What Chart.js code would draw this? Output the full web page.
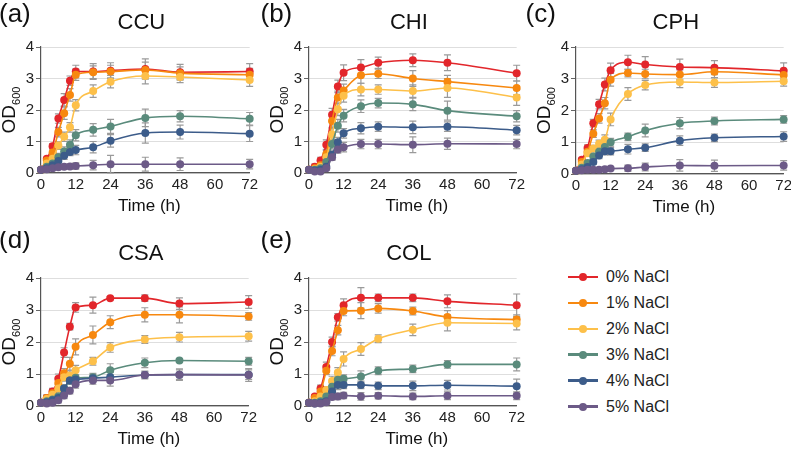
<!DOCTYPE html>
<html>
<head>
<meta charset="utf-8">
<script src="https://cdn.jsdelivr.net/npm/chart.js@4.4.1/dist/chart.umd.min.js"></script>
<style>
  body { margin: 0; width: 791px; height: 449px; background: #fff; position: relative; overflow: hidden;
         font-family: "Liberation Sans", Arial, sans-serif; }
  canvas { position: absolute; }
  .lg { position: absolute; left: 568px; height: 26px; width: 120px; }
  .lg .ln { position: absolute; left: 0; top: 11.8px; width: 30px; height: 2.5px; }
  .lg .dt { position: absolute; left: 11px; top: 9px; width: 8px; height: 8px; border-radius: 50%; }
  .lg .tx { position: absolute; left: 38px; top: 0; line-height: 26px; font-size: 16px; color: #222; white-space: nowrap; }
</style>
</head>
<body>
<canvas id="pa"></canvas>
<canvas id="pb"></canvas>
<canvas id="pc"></canvas>
<canvas id="pd"></canvas>
<canvas id="pe"></canvas>
<div id="legend"></div>
<script>
// sampling times (h) and series
var hours = [0, 2, 4, 6, 8, 10, 12, 18, 24, 36, 48, 72];
var nacl = ['0% NaCl', '1% NaCl', '2% NaCl', '3% NaCl', '4% NaCl', '5% NaCl'];
var colors = ['#e2262b', '#f7880f', '#fdc04a', '#5a8b7c', '#3c5c8a', '#6c5a87'];
var xTicks = [0, 12, 24, 36, 48, 60, 72];
var yTicks = [0, 1, 2, 3, 4];

// OD600 means, one row per NaCl level
var ccuOD = [
  [0.1, 0.45, 0.85, 1.73, 2.32, 2.93, 3.22, 3.22, 3.25, 3.3, 3.2, 3.22],
  [0.1, 0.4, 0.65, 1.3, 1.9, 2.48, 3.12, 3.2, 3.22, 3.27, 3.17, 3.12],
  [0.1, 0.3, 0.45, 0.87, 1.15, 1.45, 2.15, 2.6, 2.9, 3.08, 3.05, 2.95],
  [0.1, 0.2, 0.3, 0.5, 0.68, 0.9, 1.2, 1.37, 1.48, 1.75, 1.8, 1.72],
  [0.1, 0.15, 0.25, 0.38, 0.55, 0.67, 0.73, 0.82, 1.02, 1.27, 1.3, 1.25],
  [0.1, 0.12, 0.15, 0.18, 0.2, 0.21, 0.22, 0.25, 0.28, 0.28, 0.28, 0.28]
];
var ccuErr = [
  [0.02, 0.05, 0.08, 0.15, 0.2, 0.15, 0.2, 0.25, 0.25, 0.32, 0.25, 0.25],
  [0.02, 0.05, 0.08, 0.15, 0.2, 0.2, 0.18, 0.2, 0.2, 0.25, 0.2, 0.2],
  [0.02, 0.05, 0.08, 0.12, 0.15, 0.15, 0.18, 0.2, 0.2, 0.25, 0.18, 0.2],
  [0.02, 0.05, 0.08, 0.12, 0.15, 0.15, 0.18, 0.2, 0.22, 0.28, 0.18, 0.2],
  [0.02, 0.03, 0.05, 0.1, 0.12, 0.12, 0.15, 0.18, 0.2, 0.32, 0.22, 0.25],
  [0.02, 0.02, 0.03, 0.05, 0.05, 0.08, 0.1, 0.15, 0.28, 0.22, 0.2, 0.15]
];
var chiOD = [
  [0.1, 0.2, 0.4, 0.9, 1.85, 2.75, 3.18, 3.35, 3.5, 3.58, 3.5, 3.17],
  [0.1, 0.15, 0.25, 0.6, 1.65, 2.4, 2.62, 3.1, 3.15, 3.0, 2.9, 2.7],
  [0.1, 0.12, 0.2, 0.5, 1.22, 2.02, 2.45, 2.65, 2.65, 2.6, 2.7, 2.4],
  [0.1, 0.1, 0.15, 0.35, 0.92, 1.5, 1.82, 2.12, 2.22, 2.18, 1.98, 1.8],
  [0.1, 0.08, 0.1, 0.2, 0.58, 0.98, 1.26, 1.42, 1.47, 1.45, 1.47, 1.36],
  [0.1, 0.05, 0.05, 0.15, 0.5, 0.75, 0.82, 0.92, 0.92, 0.9, 0.93, 0.92]
];
var chiErr = [
  [0.02, 0.08, 0.1, 0.15, 0.2, 0.2, 0.25, 0.25, 0.18, 0.2, 0.25, 0.25],
  [0.02, 0.05, 0.08, 0.12, 0.2, 0.2, 0.2, 0.25, 0.15, 0.25, 0.2, 0.22],
  [0.02, 0.05, 0.08, 0.1, 0.2, 0.2, 0.2, 0.2, 0.15, 0.2, 0.3, 0.25],
  [0.02, 0.05, 0.05, 0.1, 0.15, 0.2, 0.2, 0.2, 0.15, 0.2, 0.3, 0.18],
  [0.02, 0.03, 0.05, 0.08, 0.15, 0.15, 0.15, 0.18, 0.15, 0.2, 0.15, 0.15],
  [0.02, 0.03, 0.03, 0.05, 0.1, 0.12, 0.15, 0.15, 0.15, 0.25, 0.18, 0.15]
];
var cphOD = [
  [0.1, 0.45, 0.82, 1.6, 2.2, 2.82, 3.27, 3.52, 3.45, 3.37, 3.35, 3.25],
  [0.1, 0.38, 0.7, 1.27, 1.75, 2.23, 2.97, 3.18, 3.15, 3.13, 3.22, 3.12],
  [0.1, 0.3, 0.65, 0.8, 0.95, 1.08, 1.72, 2.52, 2.8, 2.9, 2.88, 2.92],
  [0.1, 0.2, 0.35, 0.55, 0.7, 0.85, 1.0, 1.17, 1.37, 1.6, 1.67, 1.72],
  [0.1, 0.15, 0.22, 0.38, 0.58, 0.72, 0.72, 0.78, 0.83, 1.05, 1.14, 1.18],
  [0.1, 0.12, 0.13, 0.13, 0.13, 0.15, 0.17, 0.18, 0.22, 0.27, 0.26, 0.27]
];
var cphErr = [
  [0.02, 0.05, 0.1, 0.12, 0.15, 0.2, 0.22, 0.22, 0.25, 0.25, 0.22, 0.25],
  [0.02, 0.05, 0.08, 0.12, 0.15, 0.18, 0.2, 0.12, 0.15, 0.15, 0.18, 0.15],
  [0.02, 0.05, 0.08, 0.1, 0.12, 0.15, 0.2, 0.2, 0.15, 0.18, 0.15, 0.15],
  [0.02, 0.03, 0.05, 0.08, 0.1, 0.12, 0.12, 0.12, 0.2, 0.18, 0.12, 0.12],
  [0.02, 0.03, 0.05, 0.08, 0.1, 0.12, 0.12, 0.15, 0.12, 0.15, 0.12, 0.15],
  [0.02, 0.02, 0.02, 0.03, 0.03, 0.05, 0.05, 0.1, 0.12, 0.18, 0.18, 0.15]
];
var csaOD = [
  [0.1, 0.25, 0.45, 0.85, 1.67, 2.48, 3.08, 3.15, 3.37, 3.37, 3.2, 3.25],
  [0.1, 0.25, 0.4, 0.72, 1.02, 1.32, 1.85, 2.22, 2.62, 2.85, 2.85, 2.8],
  [0.1, 0.22, 0.35, 0.55, 0.9, 0.95, 1.12, 1.4, 1.83, 2.08, 2.15, 2.18],
  [0.1, 0.15, 0.2, 0.3, 0.55, 0.8, 0.88, 0.9, 1.12, 1.35, 1.42, 1.4],
  [0.1, 0.12, 0.18, 0.25, 0.55, 0.8, 0.83, 0.87, 0.9, 0.97, 0.98, 0.98],
  [0.1, 0.08, 0.1, 0.18, 0.33, 0.48, 0.68, 0.8, 0.8, 0.97, 0.98, 0.97]
];
var csaErr = [
  [0.02, 0.08, 0.1, 0.15, 0.15, 0.1, 0.15, 0.25, 0.05, 0.1, 0.18, 0.2],
  [0.02, 0.1, 0.1, 0.15, 0.15, 0.2, 0.25, 0.28, 0.2, 0.22, 0.25, 0.12],
  [0.02, 0.1, 0.1, 0.12, 0.12, 0.15, 0.15, 0.12, 0.15, 0.12, 0.15, 0.15],
  [0.02, 0.08, 0.08, 0.1, 0.1, 0.12, 0.1, 0.12, 0.2, 0.15, 0.05, 0.12],
  [0.02, 0.05, 0.05, 0.08, 0.1, 0.1, 0.1, 0.1, 0.15, 0.12, 0.15, 0.15],
  [0.02, 0.03, 0.05, 0.08, 0.1, 0.1, 0.12, 0.12, 0.18, 0.1, 0.18, 0.2]
];
var colOD = [
  [0.1, 0.3, 0.55, 1.22, 2.0, 2.77, 3.15, 3.38, 3.38, 3.38, 3.27, 3.15],
  [0.1, 0.25, 0.45, 1.1, 1.72, 2.37, 2.97, 2.98, 3.05, 2.97, 2.78, 2.7],
  [0.1, 0.15, 0.3, 0.5, 0.78, 1.05, 1.47, 1.78, 2.1, 2.38, 2.6, 2.58],
  [0.1, 0.1, 0.15, 0.3, 0.6, 0.82, 0.85, 0.92, 1.1, 1.16, 1.3, 1.3],
  [0.1, 0.08, 0.1, 0.15, 0.45, 0.66, 0.66, 0.66, 0.63, 0.63, 0.65, 0.62],
  [0.1, 0.08, 0.08, 0.12, 0.28, 0.3, 0.33, 0.3, 0.32, 0.3, 0.32, 0.32]
];
var colErr = [
  [0.02, 0.05, 0.1, 0.15, 0.15, 0.12, 0.2, 0.32, 0.12, 0.12, 0.2, 0.35],
  [0.02, 0.05, 0.08, 0.12, 0.15, 0.15, 0.15, 0.25, 0.15, 0.12, 0.2, 0.15],
  [0.02, 0.05, 0.08, 0.1, 0.15, 0.15, 0.22, 0.2, 0.12, 0.18, 0.25, 0.2],
  [0.02, 0.03, 0.05, 0.08, 0.12, 0.15, 0.12, 0.18, 0.12, 0.12, 0.12, 0.2],
  [0.02, 0.03, 0.05, 0.08, 0.1, 0.15, 0.12, 0.12, 0.12, 0.15, 0.15, 0.22],
  [0.02, 0.02, 0.03, 0.05, 0.08, 0.1, 0.1, 0.12, 0.1, 0.1, 0.12, 0.12]
];

var FONT = '"Liberation Sans", Arial, sans-serif';
var YW = 56;  // room left of the plot area inside each canvas

// draws error bars, panel letter, title and axis titles
function decor(p) {
  return {
    id: 'decor',
    beforeDatasetsDraw: function(chart) {
      var ctx = chart.ctx, ys = chart.scales.y;
      ctx.save();
      ctx.strokeStyle = '#9a9a9a';
      ctx.lineWidth = 1.2;
      p.od.forEach(function(row, i) {
        var meta = chart.getDatasetMeta(i);
        row.forEach(function(v, j) {
          var e = p.err[i][j];
          var x = meta.data[j].x;
          var y1 = ys.getPixelForValue(v + e), y2 = ys.getPixelForValue(Math.max(v - e, 0));
          ctx.beginPath();
          ctx.moveTo(x, y1); ctx.lineTo(x, y2);
          ctx.moveTo(x - 3.5, y1); ctx.lineTo(x + 3.5, y1);
          ctx.moveTo(x - 3.5, y2); ctx.lineTo(x + 3.5, y2);
          ctx.stroke();
        });
      });
      ctx.restore();
    },
    afterDraw: function(chart) {
      var ctx = chart.ctx, a = chart.chartArea;
      var cx = (a.left + a.right) / 2, cy = (a.top + a.bottom) / 2;
      ctx.save();
      ctx.fillStyle = '#111';
      ctx.textBaseline = 'middle';
      ctx.textAlign = 'left';
      ctx.font = '26px ' + FONT;
      ctx.fillText(p.letter, p.lx - (p.L - YW), p.ly - (p.T - 47));
      ctx.textAlign = 'center';
      ctx.font = '22px ' + FONT;
      ctx.fillText(p.name, cx - 4, a.top - 24.5);
      ctx.font = '17px ' + FONT;
      ctx.fillText('Time (h)', cx + 4, a.bottom + 33);
      // OD600 with subscript, rotated
      ctx.translate(a.left - 31, cy);
      ctx.rotate(-Math.PI / 2);
      ctx.font = '19px ' + FONT;
      var w1 = ctx.measureText('OD').width;
      ctx.font = '11px ' + FONT;
      var w2 = ctx.measureText('600').width;
      var s = -(w1 + w2) / 2;
      ctx.textAlign = 'left';
      ctx.font = '19px ' + FONT;
      ctx.fillText('OD', s, 0);
      ctx.font = '11px ' + FONT;
      ctx.fillText('600', s + w1, 7);
      ctx.restore();
    }
  };
}

function makePanel(id, p) {
  var cv = document.getElementById(id);
  var W = (p.R - p.L) + YW + 10, H = (p.B - p.T) + 47 + 52;
  cv.width = W; cv.height = H;
  cv.style.left = (p.L - YW) + 'px';
  cv.style.top = (p.T - 47) + 'px';
  cv.style.width = W + 'px'; cv.style.height = H + 'px';

  var datasets = p.od.map(function(row, i) {
    return {
      label: nacl[i],
      data: row.map(function(v, j) { return {x: hours[j], y: v}; }),
      borderColor: colors[i],
      backgroundColor: colors[i],
      borderWidth: 1.6,
      pointRadius: 4,
      pointBorderWidth: 0,
      cubicInterpolationMode: 'monotone',
      clip: false
    };
  }).reverse();
  // draw 0% on top: reverse datasets and errors together
  var pr = {od: p.od.slice().reverse(), err: p.err.slice().reverse()};
  for (var k in p) if (!(k in pr)) pr[k] = p[k];

  new Chart(cv, {
    type: 'line',
    data: {datasets: datasets},
    options: {
      responsive: false,
      animation: false,
      events: [],
      layout: {padding: {left: 0, right: 10, top: 47, bottom: 28}},
      plugins: {legend: {display: false}, tooltip: {enabled: false}, title: {display: false}},
      scales: {
        x: {
          type: 'linear', min: 0, max: 72,
          afterBuildTicks: function(s) { s.ticks = xTicks.map(function(v) { return {value: v}; }); },
          afterFit: function(s) { s.height = 24; },
          grid: {display: false, drawTicks: false},
          border: {display: true, color: '#555', width: 1.2},
          ticks: {padding: 3, color: '#222', font: {size: 15, family: FONT}, maxRotation: 0, autoSkip: false}
        },
        y: {
          min: 0, max: 4,
          afterBuildTicks: function(s) { s.ticks = yTicks.map(function(v) { return {value: v}; }); },
          afterFit: function(s) { s.width = YW; },
          grid: {color: '#dedede', lineWidth: 1, tickColor: '#666', tickLength: 5, drawTicks: true},
          border: {display: true, color: '#555', width: 1.2},
          ticks: {padding: 2, color: '#222', font: {size: 15, family: FONT}}
        }
      }
    },
    plugins: [decor(pr)]
  });
}

makePanel('pa', {name: 'CCU', letter: '(a)', lx: -1, ly: 15, L: 41, R: 251, T: 47, B: 173, od: ccuOD, err: ccuErr});
makePanel('pb', {name: 'CHI', letter: '(b)', lx: 260.5, ly: 15, L: 309, R: 518, T: 47, B: 173, od: chiOD, err: chiErr});
makePanel('pc', {name: 'CPH', letter: '(c)', lx: 525.5, ly: 15, L: 576, R: 785, T: 47, B: 174, od: cphOD, err: cphErr});
makePanel('pd', {name: 'CSA', letter: '(d)', lx: -1, ly: 241, L: 41, R: 250, T: 278, B: 406, od: csaOD, err: csaErr});
makePanel('pe', {name: 'COL', letter: '(e)', lx: 260.5, ly: 241, L: 309, R: 518, T: 278, B: 406, od: colOD, err: colErr});

// legend
var lg = document.getElementById('legend');
nacl.forEach(function(t, i) {
  var d = document.createElement('div');
  d.className = 'lg';
  d.style.top = (264 + i * 25.9) + 'px';
  d.innerHTML = '<span class="ln" style="background:' + colors[i] + '"></span>' +
    '<span class="dt" style="background:' + colors[i] + '"></span>' +
    '<span class="tx">' + t + '</span>';
  lg.appendChild(d);
});
</script>
</body>
</html>
